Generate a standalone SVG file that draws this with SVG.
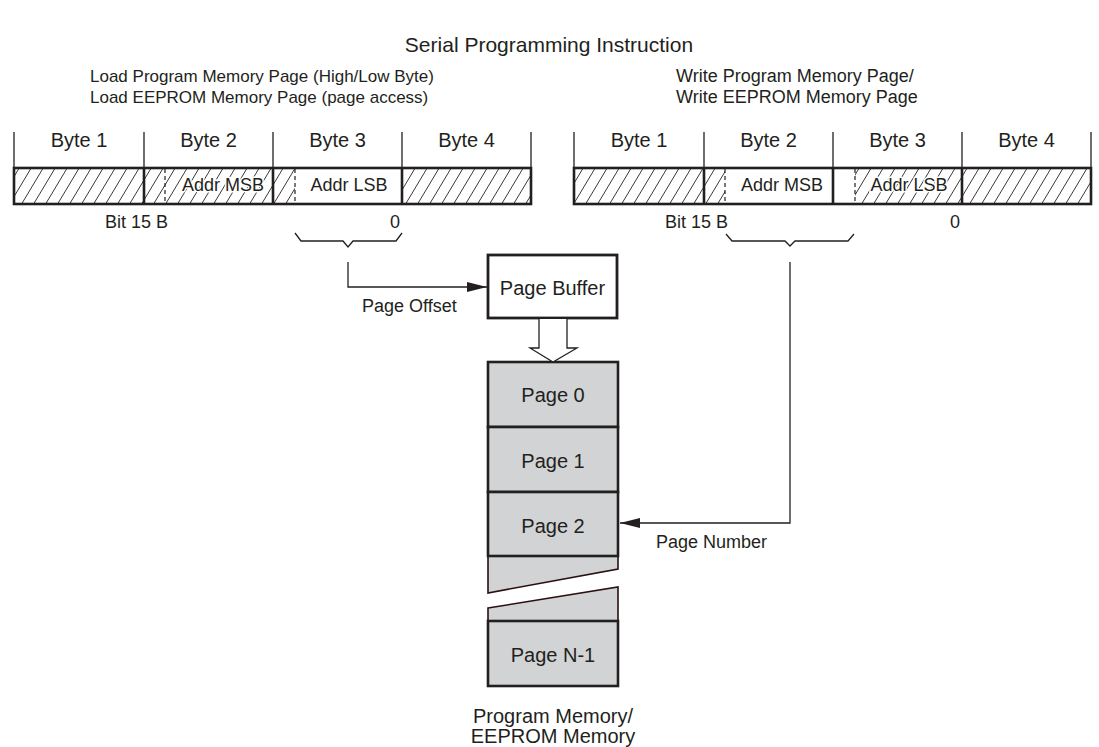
<svg xmlns="http://www.w3.org/2000/svg" width="1099" height="747" viewBox="0 0 1099 747">
<style>
text{font-family:"Liberation Sans",Arial,sans-serif;font-size:18px;fill:#231f20}
.c{text-anchor:middle}
.big{font-size:20px}
.sub{font-size:17px}
.thin{stroke:#231f20;stroke-width:1.3;fill:none}
.thick{stroke:#231f20;stroke-width:2.6;fill:none}
.dash{stroke:#231f20;stroke-width:1.2;stroke-dasharray:4 3;fill:none}
.page{fill:#d1d3d4;stroke:#231f20;stroke-width:2.6}
.brk{fill:#d1d3d4;stroke:#2b1010;stroke-width:1.6}
.halo{paint-order:stroke;stroke:#fff;stroke-width:3px;stroke-linejoin:round}
</style>
<defs>
<pattern id="hatch" patternUnits="userSpaceOnUse" width="12" height="20">
<path d="M0,20 L12,0 M-3,5 L3,-5 M9,25 L15,15" stroke="#231f20" stroke-width="0.9"/>
</pattern>
<marker id="arr" viewBox="0 0 20 10" refX="20" refY="5" markerWidth="20" markerHeight="10" markerUnits="userSpaceOnUse" orient="auto">
<path d="M0,0 L20,5 L0,10 Z" fill="#231f20"/>
</marker>
</defs>

<text id="title" class="c" x="549" y="52" style="font-size:21px">Serial Programming Instruction</text>

<g id="left-instruction">
<text class="sub" x="90" y="82">Load Program Memory Page (High/Low Byte)</text>
<text class="sub" x="90" y="103">Load EEPROM Memory Page (page access)</text>
<rect x="14" y="168" width="130" height="36" fill="url(#hatch)"/>
<rect x="144" y="168" width="129" height="36" fill="url(#hatch)"/>
<rect x="273" y="168" width="22" height="36" fill="url(#hatch)"/>
<rect x="402" y="168" width="129" height="36" fill="url(#hatch)"/>
<path class="thin" d="M14,132 V168 M144,132 V168 M273,132 V168 M402,132 V168 M531,132 V168"/>
<rect class="thick" x="14" y="168" width="517" height="36"/>
<path class="thick" d="M144,168 V204 M273,168 V204 M402,168 V204"/>
<path class="dash" d="M165,169 V203 M295,169 V203"/>
<text class="c big" x="79" y="147">Byte 1</text>
<text class="c big" x="208.5" y="147">Byte 2</text>
<text class="c big" x="337.5" y="147">Byte 3</text>
<text class="c big" x="466.5" y="147">Byte 4</text>
<text class="c halo" x="223" y="191">Addr MSB</text>
<text class="c" x="349" y="191">Addr LSB</text>
<text x="168" y="228" text-anchor="end">Bit 15 B</text>
<text x="400" y="228" text-anchor="end">0</text>
<path class="thin" d="M295,233 L301,241 L343,241 L348,247 L353,241 L396,241 L402,233"/>
</g>

<g id="right-instruction">
<text x="676" y="82">Write Program Memory Page/</text>
<text x="676" y="103">Write EEPROM Memory Page</text>
<rect x="574" y="168" width="130" height="36" fill="url(#hatch)"/>
<rect x="704" y="168" width="21" height="36" fill="url(#hatch)"/>
<rect x="855" y="168" width="107" height="36" fill="url(#hatch)"/>
<rect x="962" y="168" width="129" height="36" fill="url(#hatch)"/>
<path class="thin" d="M574,132 V168 M704,132 V168 M833,132 V168 M962,132 V168 M1091,132 V168"/>
<rect class="thick" x="574" y="168" width="517" height="36"/>
<path class="thick" d="M704,168 V204 M833,168 V204 M962,168 V204"/>
<path class="dash" d="M725,169 V203 M855,169 V203"/>
<text class="c big" x="639" y="147">Byte 1</text>
<text class="c big" x="768.5" y="147">Byte 2</text>
<text class="c big" x="897.5" y="147">Byte 3</text>
<text class="c big" x="1026.5" y="147">Byte 4</text>
<text class="c" x="782" y="191">Addr MSB</text>
<text class="c halo" x="909" y="191">Addr LSB</text>
<text x="728" y="228" text-anchor="end">Bit 15 B</text>
<text x="960" y="228" text-anchor="end">0</text>
<path class="thin" d="M726,234 L732,241 L785,241 L790,246 L795,241 L848,241 L854,234"/>
</g>

<g id="page-buffer">
<rect x="488" y="255" width="129" height="63" fill="#fff" stroke="#231f20" stroke-width="2.8"/>
<text class="c big" x="552.5" y="295">Page Buffer</text>
</g>

<g id="memory">
<polygon class="brk" points="488,556 618,556 618,569 488,593"/>
<polygon class="brk" points="488,608 618,587 618,621 488,621"/>
<rect class="page" x="488" y="362" width="130" height="65"/>
<rect class="page" x="488" y="427" width="130" height="65"/>
<rect class="page" x="488" y="492" width="130" height="64"/>
<rect class="page" x="488" y="621" width="130" height="65"/>
<text class="c big" x="553" y="402">Page 0</text>
<text class="c big" x="553" y="468">Page 1</text>
<text class="c big" x="553" y="533">Page 2</text>
<text class="c big" x="553" y="662">Page N-1</text>
<text class="c big" x="553" y="723">Program Memory/</text>
<text class="c big" x="553" y="743">EEPROM Memory</text>
</g>

<g id="connectors">
<path class="thin" d="M348,262 V287 H487" marker-end="url(#arr)"/>
<text x="362" y="312">Page Offset</text>
<path class="thin" d="M790,262 V523 H620" marker-end="url(#arr)"/>
<text x="656" y="548">Page Number</text>
<path d="M539,319 V348 H530 L553,362 L577,348 H567 V319" fill="#fff" stroke="#231f20" stroke-width="1.3"/>
</g>
</svg>
